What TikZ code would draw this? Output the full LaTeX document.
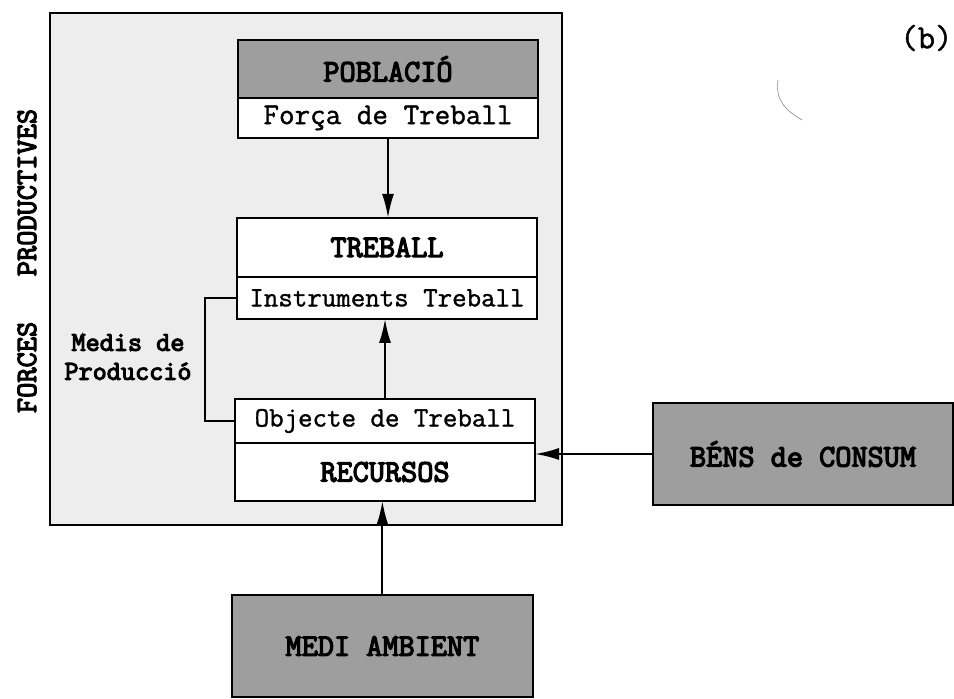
\documentclass[tikz,border=0pt]{standalone}
\usepackage{fontspec}
\newfontfamily\slabbold[FakeBold=4]{Latin Modern Mono}
\newfontfamily\slabtext[FakeBold=1.2]{Latin Modern Mono}
\usetikzlibrary{arrows.meta, positioning}
\definecolor{halftone}{gray}{0.62}
\definecolor{stipple}{gray}{0.93}

\begin{document}
\begin{tikzpicture}[
  box/.style={draw, line width=1.8pt, minimum width=7.5cm, inner sep=0pt, outer sep=0pt},
  graybox/.style={box, fill=halftone, font=\fontsize{22.3}{26}\slabbold},
  headbox/.style={box, fill=white, font=\fontsize{22.3}{26}\slabbold},
  rowbox/.style={box, fill=white, font=\fontsize{20}{24}\slabtext},
  flow/.style={line width=1.5pt, -{Latex[length=6mm, width=3mm]}}
]
\useasboundingbox (0,0) rectangle (23.85,17.475);
\node (frame) [draw, fill=stipple, line width=1.2pt, minimum width=12.8cm, minimum height=12.8cm] at (7.65,10.75) {};
\node (forces) [rotate=90, font=\fontsize{21}{24}\slabbold] at (0.675,10.95) {FORCES~~~PRODUCTIVES};
\node (fig) [font=\fontsize{24}{28}\slabtext] at (23.16,16.525) {(b)};
%Boxes:
\node (poblacio) [graybox, minimum height=1.45cm] at (9.7,15.75) {POBLACIÓ};
\node (forca) [rowbox, minimum height=1cm, below=0pt of poblacio, font=\fontsize{21.5}{24}\slabtext] {Força de Treball};
\node (treball) [headbox, minimum height=1.475cm] at (9.675,11.29) {TREBALL};
\node (instr) [rowbox, minimum height=1.05cm, below=0pt of treball] {Instruments Treball};
\node (objecte) [rowbox, minimum height=1.1cm] at (9.625,6.95) {Objecte de Treball};
\node (recursos) [headbox, minimum height=1.45cm, below=0pt of objecte] {RECURSOS};
\node (medi) [graybox, minimum width=7.525cm, minimum height=2.55cm] at (9.56,1.325) {MEDI AMBIENT};
\node (bens) [graybox, minimum height=2.55cm] at (20.075,6.125) {BÉNS de CONSUM};
\node (medis) [align=center, font=\fontsize{19.5}{20.6}\slabbold] at (3.2,8.55) {Medis de\\Producció};
%Flows:
\path [flow]
(forca.south) edge (forca.south |- treball.north)
(objecte.north) edge (objecte.north |- instr.south)
(medi.north) edge (medi.north |- recursos.south)
(bens.west) edge (bens.west -| recursos.east)
;
\draw [line width=1.5pt] (instr.west) -- ++(-0.8,0) |- (objecte.west);
\draw [gray, line width=0.4pt] (19.45,15.475) .. controls (19.38,14.975) and (19.625,14.725) .. (20.05,14.475);
\end{tikzpicture}
\end{document}
